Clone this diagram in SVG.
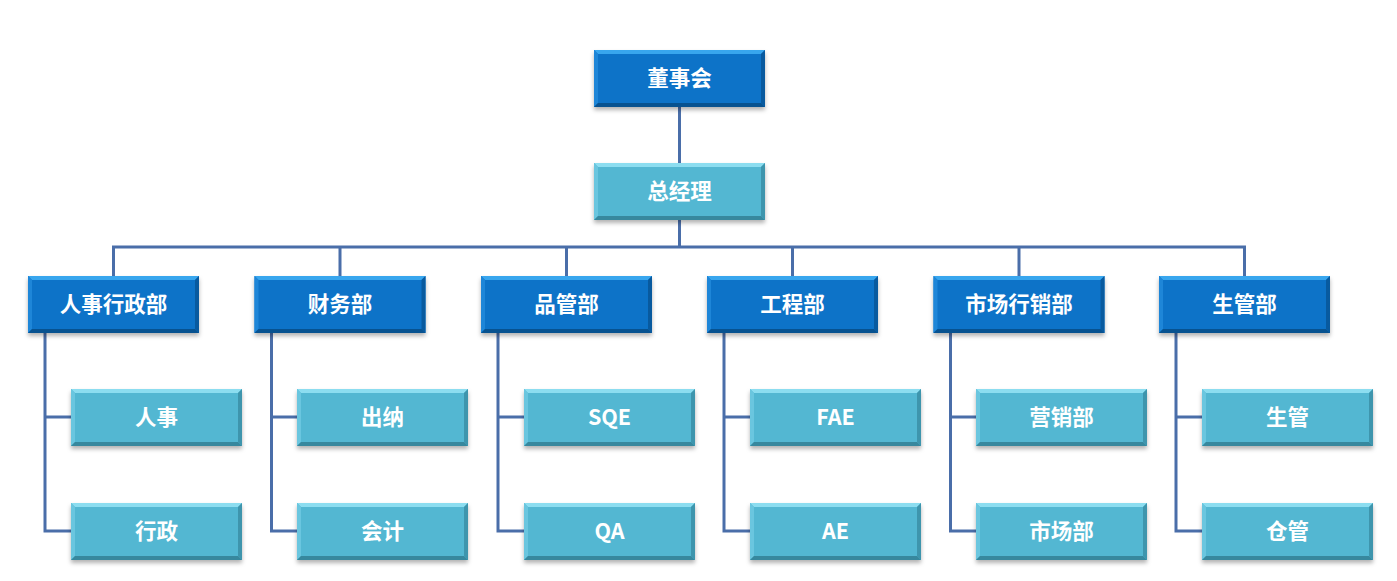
<svg xmlns="http://www.w3.org/2000/svg" xmlns:xlink="http://www.w3.org/1999/xlink" width="1397" height="581" viewBox="0 0 1397 581">
<style>
.t{font-family:"Noto Sans CJK SC","Liberation Sans",sans-serif;font-weight:bold;font-size:21.5px;fill:#ffffff;text-anchor:middle}
.c{fill:none;stroke:#4A6EA9;stroke-width:3}
</style>
<defs>
<filter id="sh" x="-10%" y="-20%" width="120%" height="150%">
<feDropShadow dx="0" dy="3" stdDeviation="2" flood-color="#000" flood-opacity="0.3"/>
</filter>
<g id="dark">
<rect x="0" y="0" width="171" height="57" fill="#0B73C8" filter="url(#sh)"/>
<polygon points="0,0 171,0 167,4 4,4" fill="#38A6EE"/>
<polygon points="0,0 4,4 4,53 0,57" fill="#1E86D8"/>
<polygon points="171,0 171,57 167,53 167,4" fill="#085A9F"/>
<polygon points="0,57 4,53 167,53 171,57" fill="#075290"/>
</g>
<g id="light">
<rect x="0" y="0" width="171" height="57" fill="#53B7D2" filter="url(#sh)"/>
<polygon points="0,0 171,0 167,4 4,4" fill="#8CDDF0"/>
<polygon points="0,0 4,4 4,53 0,57" fill="#6AC6DF"/>
<polygon points="171,0 171,57 167,53 167,4" fill="#3E95AD"/>
<polygon points="0,57 4,53 167,53 171,57" fill="#37889E"/>
</g>
</defs>
<rect width="1397" height="581" fill="#ffffff"/>
<g id="connectors">
<path class="c" d="M679.5,107 V163 M679.5,220 V247 M113.5,276 V247 H1244.5 V276 M340,247 V276 M566.5,247 V276 M792.5,247 V276 M1019,247 V276"/>
<path class="c" d="M45,333 V531 H71 M45,417 H71"/>
<path class="c" d="M271.5,333 V531 H297 M271.5,417 H297"/>
<path class="c" d="M498,333 V531 H524 M498,417 H524"/>
<path class="c" d="M724,333 V531 H750 M724,417 H750"/>
<path class="c" d="M950.5,333 V531 H976 M950.5,417 H976"/>
<path class="c" d="M1176,333 V531 H1202 M1176,417 H1202"/>
</g>
<g id="n-board"><use xlink:href="#dark" x="594" y="50"/><text class="t" x="679.5" y="86">董事会</text></g>
<g id="n-gm"><use xlink:href="#light" x="594" y="163"/><text class="t" x="679.5" y="199">总经理</text></g>
<g id="n-hr"><use xlink:href="#dark" x="28" y="276"/><text class="t" x="113.5" y="312">人事行政部</text></g>
<g id="n-fin"><use xlink:href="#dark" x="254.5" y="276"/><text class="t" x="340" y="312">财务部</text></g>
<g id="n-qm"><use xlink:href="#dark" x="481" y="276"/><text class="t" x="566.5" y="312">品管部</text></g>
<g id="n-eng"><use xlink:href="#dark" x="707" y="276"/><text class="t" x="792.5" y="312">工程部</text></g>
<g id="n-mkt"><use xlink:href="#dark" x="933.5" y="276"/><text class="t" x="1019" y="312">市场行销部</text></g>
<g id="n-pm"><use xlink:href="#dark" x="1159" y="276"/><text class="t" x="1244.5" y="312">生管部</text></g>
<g id="n-hr1"><use xlink:href="#light" x="71" y="389"/><text class="t" x="156.5" y="425">人事</text></g>
<g id="n-hr2"><use xlink:href="#light" x="71" y="503"/><text class="t" x="156.5" y="539">行政</text></g>
<g id="n-fin1"><use xlink:href="#light" x="297" y="389"/><text class="t" x="382.5" y="425">出纳</text></g>
<g id="n-fin2"><use xlink:href="#light" x="297" y="503"/><text class="t" x="382.5" y="539">会计</text></g>
<g id="n-qm1"><use xlink:href="#light" x="524" y="389"/><text class="t" x="609.5" y="425">SQE</text></g>
<g id="n-qm2"><use xlink:href="#light" x="524" y="503"/><text class="t" x="609.5" y="539">QA</text></g>
<g id="n-eng1"><use xlink:href="#light" x="750" y="389"/><text class="t" x="835.5" y="425">FAE</text></g>
<g id="n-eng2"><use xlink:href="#light" x="750" y="503"/><text class="t" x="835.5" y="539">AE</text></g>
<g id="n-mkt1"><use xlink:href="#light" x="976" y="389"/><text class="t" x="1061.5" y="425">营销部</text></g>
<g id="n-mkt2"><use xlink:href="#light" x="976" y="503"/><text class="t" x="1061.5" y="539">市场部</text></g>
<g id="n-pm1"><use xlink:href="#light" x="1202" y="389"/><text class="t" x="1287.5" y="425">生管</text></g>
<g id="n-pm2"><use xlink:href="#light" x="1202" y="503"/><text class="t" x="1287.5" y="539">仓管</text></g>
</svg>
